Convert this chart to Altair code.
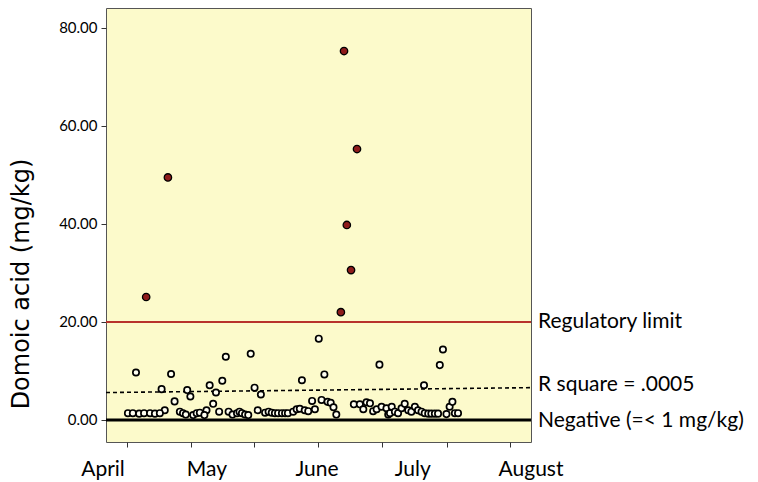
import altair as alt
import pandas as pd

# ---- data (x = days after April 1, y = domoic acid mg/kg) ----
open_x = [9.4, 19.4, 35.0, 42.1, 16.7, 24.0, 24.9, 20.4, 30.4, 34.0, 32.2, 31.4, 17.6, 33.1, 29.5,
          43.2, 45.0, 44.1, 56.7, 63.1, 61.5, 59.6, 62.3, 64.0, 64.9, 65.7, 66.5, 60.4, 78.8, 96.0,
          96.9, 91.5,
          71.5, 73.2, 74.2, 75.1, 76.1, 77.0, 78.0, 79.4, 80.8, 81.3, 81.8, 82.3, 83.2, 84.1, 85.1,
          86.0, 87.0, 87.9, 88.9, 89.8, 90.8, 91.7, 92.7, 93.6, 94.6, 95.5, 97.9, 98.8, 99.6, 100.3,
          101.2,
          7.1, 8.5, 10.3, 11.7, 13.4, 14.8, 16.2, 21.9, 22.8, 23.6, 25.7, 26.7, 27.6, 28.9,
          35.8, 36.9, 38.2, 38.9, 39.6, 40.5, 41.4, 46.2, 47.2, 48.1, 49.0, 49.9, 51.0, 51.9, 52.7,
          54.2, 55.2, 56.1, 57.5, 58.5]
open_y = [9.7, 9.4, 12.9, 13.5, 6.3, 6.1, 4.8, 3.8, 7.1, 8.0, 5.6, 3.3, 2.0, 1.7, 2.0,
          6.6, 5.2, 2.0, 8.1, 9.3, 16.6, 3.9, 4.1, 3.7, 3.5, 2.6, 1.1, 2.2, 11.3, 11.2,
          14.4, 7.1,
          3.2, 3.2, 2.2, 3.6, 3.4, 1.8, 2.2, 2.7, 2.4, 1.1, 1.4, 2.7, 1.7, 1.4, 2.4,
          3.3, 2.0, 1.7, 2.7, 2.0, 1.7, 1.4, 1.3, 1.3, 1.3, 1.3, 1.2, 2.7, 3.7, 1.4,
          1.4,
          1.4, 1.4, 1.3, 1.4, 1.4, 1.3, 1.4, 1.7, 1.4, 1.1, 1.0, 1.4, 1.5, 1.0,
          1.7, 1.1, 1.4, 1.7, 1.4, 1.1, 1.0, 1.5, 1.7, 1.5, 1.4, 1.4, 1.4, 1.4, 1.4,
          1.7, 2.2, 2.3, 2.0, 1.8]

red_x = [12.3, 18.5, 68.7, 72.4, 69.5, 70.7, 67.8]
red_y = [25.1, 49.5, 75.3, 55.3, 39.8, 30.6, 22.0]

reg_x = [0.85, 122.0]
reg_y = [5.6, 6.6]

month_names = ["April", "May", "June", "July", "August"]
month_pos = [0.0, 29.6, 61.0, 88.3, 122.0]
x_ticks = [6.8, 25.1, 43.0, 61.3, 79.5, 98.0, 116.0]
y_ticks = [0, 20, 40, 60, 80]

ref_labels = ["Regulatory limit", "R square = .0005", "Negative (=< 1 mg/kg)"]
ref_label_y = [20.0, 7.2, -0.2]

W, H = 425, 434
FONT = "Lato"

xs = alt.Scale(domain=[0.85, 122.0], nice=False, zero=False)
ys = alt.Scale(domain=[-4.49, 84.08], nice=False, zero=False)

x_axis = alt.Axis(values=x_ticks, labels=False, tickSize=5, domain=False, grid=False,
                  title=None, tickColor="#333")
y_axis = alt.Axis(values=y_ticks, format=".2f", labelFontSize=15, labelFont=FONT,
                  labelColor="black", tickSize=5, domain=False, grid=False, title=None,
                  tickColor="#333", labelPadding=4)

pts = pd.DataFrame({"x": open_x, "y": open_y})
reds = pd.DataFrame({"x": red_x, "y": red_y})
reg = pd.DataFrame({"x": reg_x, "y": reg_y})
months = pd.DataFrame({"m": month_names, "x": month_pos})
labs = pd.DataFrame({"t": ref_labels, "y": ref_label_y})

red_rule = alt.Chart(pd.DataFrame({"y": [20]})).mark_rule(color="#B8322C", strokeWidth=2.2).encode(
    y=alt.Y("y:Q", scale=ys, axis=y_axis))
zero_rule = alt.Chart(pd.DataFrame({"y": [0]})).mark_rule(color="black", strokeWidth=3).encode(
    y=alt.Y("y:Q", scale=ys))
reg_line = alt.Chart(reg).mark_line(color="black", strokeWidth=1.6, strokeDash=[4, 3]).encode(
    x=alt.X("x:Q", scale=xs, axis=x_axis), y=alt.Y("y:Q", scale=ys))
open_pts = alt.Chart(pts).mark_point(shape="circle", filled=True, fill="#FFFFF2", stroke="black",
                                     strokeWidth=1.7, size=40, opacity=1).encode(
    x=alt.X("x:Q", scale=xs), y=alt.Y("y:Q", scale=ys))
red_pts = alt.Chart(reds).mark_point(shape="circle", filled=True, fill="#8E1B1B", stroke="black",
                                     strokeWidth=1.3, size=55, opacity=1).encode(
    x=alt.X("x:Q", scale=xs), y=alt.Y("y:Q", scale=ys))
month_txt = alt.Chart(months).mark_text(font=FONT, fontSize=21, color="black", baseline="middle",
                                        align="center").encode(
    x=alt.X("x:Q", scale=xs), y=alt.value(H + 28), text="m:N")
ref_txt = alt.Chart(labs).mark_text(font=FONT, fontSize=21, color="black", baseline="middle",
                                    align="left").encode(
    x=alt.value(W + 7), y=alt.Y("y:Q", scale=ys), text="t:N")
ytitle = alt.Chart(pd.DataFrame({"t": ["Domoic acid (mg/kg)"]})).mark_text(
    font="DejaVu Sans", fontSize=24, color="black", angle=270, baseline="middle", align="center").encode(
    x=alt.value(-84), y=alt.value(276), text="t:N")

chart = alt.layer(red_rule, zero_rule, reg_line, open_pts, red_pts, month_txt, ref_txt, ytitle).properties(
    width=W, height=H,
    autosize=alt.AutoSizeParams(type="none"),
    padding={"left": 98, "top": 0, "right": 219, "bottom": 40},
    background="white",
).configure_view(fill="#FCFACB", stroke="#555555", strokeWidth=1)

chart.save("out.html", embed_options={"renderer": "svg", "actions": False})
